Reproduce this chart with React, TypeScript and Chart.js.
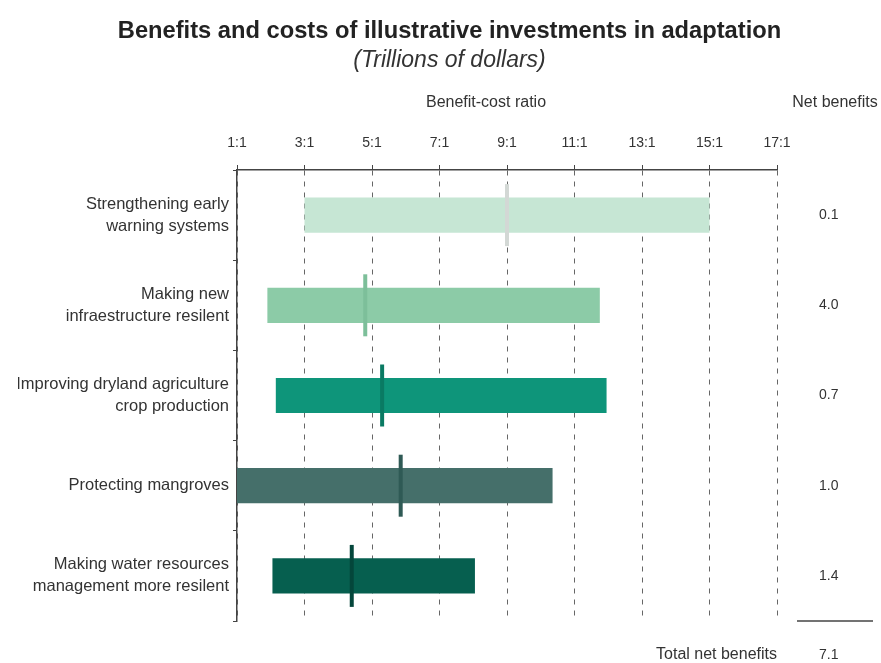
import React, { useEffect, useRef } from "react";
import { Chart, registerables } from "chart.js";

Chart.register(...registerables);

const categories: string[][] = [
  ["Strengthening early", "warning systems"],
  ["Making new", "infraestructure resilent"],
  ["Improving dryland agriculture", "crop production"],
  ["Protecting mangroves"],
  ["Making water resources", "management more resilent"],
];
const rangeLow = [3.0, 1.9, 2.15, 1.0, 2.05];
const rangeHigh = [15.0, 11.75, 11.95, 10.35, 8.05];
const markerValues = [9.0, 4.8, 5.3, 5.85, 4.4];
const netBenefits = ["0.1", "4.0", "0.7", "1.0", "1.4"];
const totalNetBenefits = "7.1";
const tickValues = [1, 3, 5, 7, 9, 11, 13, 15, 17];

const barColors = ["#c6e6d4", "#8ccba7", "#0e957a", "#456f6a", "#065f4f"];
const markerColors = ["#d3d8d5", "#7dbf9a", "#0a7a63", "#2f5a55", "#04463b"];

const FONT = "'Liberation Sans Narrow', 'Arial Narrow', 'Liberation Sans', Arial, sans-serif";

export default function App() {
  const ref = useRef<HTMLCanvasElement | null>(null);

  useEffect(() => {
    if (!ref.current) return;
    const labels = categories.map((c) => c.join(" "));

    const sidePlugin = {
      id: "sideColumn",
      afterDraw(chart: any) {
        const { ctx } = chart;
        ctx.save();
        ctx.fillStyle = "#333";
        ctx.textBaseline = "middle";
        ctx.font = `16px ${FONT}`;
        ctx.textAlign = "center";
        ctx.fillText("Benefit-cost ratio", 486, 103);
        ctx.fillText("Net benefits", 835, 103);
        ctx.strokeStyle = "#444";
        ctx.lineWidth = 1.5;
        ctx.beginPath();
        ctx.moveTo(797, 621);
        ctx.lineTo(873, 621);
        ctx.stroke();
        ctx.textAlign = "right";
        ctx.fillText("Total net benefits", 777, 655);
        ctx.font = `14px ${FONT}`;
        ctx.textAlign = "left";
        ctx.fillText(totalNetBenefits, 819, 655);
        ctx.restore();
      },
    };

    const chart = new Chart(ref.current, {
      type: "bar",
      data: {
        labels,
        datasets: [
          {
            type: "scatter" as any,
            data: markerValues.map((v, i) => ({ x: v, y: labels[i] })) as any,
            pointStyle: "line",
            rotation: 90,
            radius: 31,
            borderWidth: 4,
            borderColor: markerColors,
            backgroundColor: markerColors,
            order: 0,
            yAxisID: "y",
          } as any,
          {
            type: "bar",
            data: rangeLow.map((lo, i) => [lo, rangeHigh[i]]) as any,
            backgroundColor: barColors,
            borderWidth: 0,
            barPercentage: 0.39,
            categoryPercentage: 1,
            order: 1,
            yAxisID: "y",
          },
        ],
      },
      options: {
        indexAxis: "y",
        animation: false,
        responsive: true,
        maintainAspectRatio: false,
        layout: { padding: { left: 18, right: 0, top: 0, bottom: 42 } },
        plugins: {
          legend: { display: false },
          tooltip: { enabled: false },
          title: {
            display: true,
            text: "Benefits and costs of illustrative investments in adaptation",
            color: "#222",
            font: { family: FONT, size: 23.7, weight: "bold", lineHeight: "24px" as any },
            padding: { top: 19, bottom: 5 },
          },
          subtitle: {
            display: true,
            text: "(Trillions of dollars)",
            color: "#333",
            font: { family: FONT, size: 23, style: "italic", lineHeight: "22px" as any },
            padding: { top: 2, bottom: 9 },
          },
        },
        scales: {
          x: {
            type: "linear",
            position: "top",
            min: 1,
            max: 17,
            afterBuildTicks: (scale: any) => {
              scale.ticks = tickValues.map((v) => ({ value: v }));
            },
            afterFit: (scale: any) => {
              scale.height = 89;
            },
            ticks: {
              color: "#333",
              font: { family: FONT, size: 14 },
              padding: 13,
              callback: (v: any) => `${v}:1`,
            },
            grid: {
              color: "#666",
              lineWidth: 1,
              tickLength: 5,
              tickColor: "#444",
              tickWidth: 1,
            },
            border: { display: true, color: "#444", width: 1.5, dash: [5, 6] },
          },
          y: {
            type: "category",
            position: "left",
            afterFit: (scale: any) => {
              scale.width = 219;
              scale.paddingTop = 0;
              scale.paddingBottom = 0;
            },
            ticks: {
              color: "#333",
              font: { family: FONT, size: 16.5, lineHeight: "22px" as any },
              padding: 4,
              callback: (_v: any, i: number) => categories[i],
            },
            grid: {
              drawOnChartArea: false,
              tickLength: 4,
              tickColor: "#444",
              offset: true,
            },
            offset: true,
            border: { display: true, color: "#444", width: 1.5 },
          },
          y2: {
            type: "category",
            position: "right",
            offset: true,
            afterFit: (scale: any) => {
              scale.width = 104;
              scale.paddingTop = 0;
              scale.paddingBottom = 0;
            },
            ticks: {
              color: "#333",
              font: { family: FONT, size: 14 },
              padding: 42,
              callback: (_v: any, i: number) => netBenefits[i],
            },
            grid: { display: false, drawTicks: false, offset: true },
            border: { display: false },
          },
        },
      },
      plugins: [sidePlugin],
    });
    return () => chart.destroy();
  }, []);

  return (
    <div style={{ position: "fixed", left: 0, top: 0, width: 881, height: 663, background: "#fff" }}>
      <canvas ref={ref} />
    </div>
  );
}
